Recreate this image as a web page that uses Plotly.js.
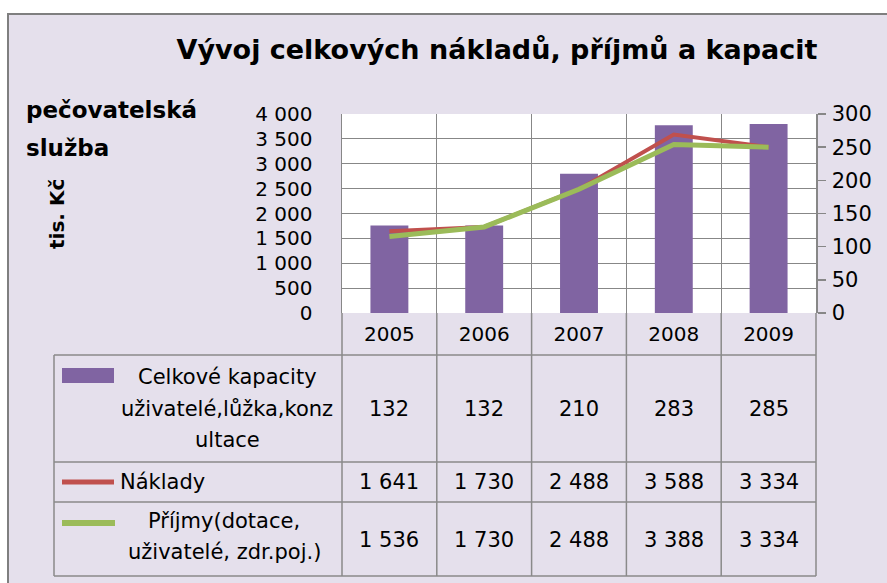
<!DOCTYPE html>
<html>
<head>
<meta charset="utf-8">
<script src="https://cdn.plot.ly/plotly-3.0.1.min.js"></script>
<style>html,body{margin:0;padding:0;background:#fff;}#chart{width:887px;height:583px;}</style>
</head>
<body>
<div id="chart"></div>
<script>
// ---- data ----
const categories = ['2005', '2006', '2007', '2008', '2009'];
const capacity = [132, 132, 210, 283, 285];      // Celkové kapacity (right axis)
const costs = [1641, 1730, 2488, 3588, 3334];    // Náklady (tis. Kč, left axis)
const income = [1536, 1730, 2488, 3388, 3334];   // Příjmy (tis. Kč, left axis)
const capacityLabel = ['Celkové kapacity', 'uživatelé,lůžka,konz', 'ultace'];
const costLabel = ['Náklady'];
const incomeLabel = ['Příjmy(dotace,', 'uživatelé, zdr.poj.)'];
const titleText = 'Vývoj celkových nákladů, příjmů a kapacit';
const sideLabel = ['pečovatelská', 'služba'];
const unitLabel = 'tis. Kč';

// ---- layout helpers (pixel -> paper) ----
const W = 887, H = 583;
const PL = 342, PR = 816, PT = 114, PB = 313;
const px = x => (x - PL) / (PR - PL);
const py = y => (PB - y) / (PB - PT);
const FONT = 'DejaVu Sans';
const GRID = '#878787';
const TBL = '#8a8a8a';
const fmt = v => String(v).replace(/\B(?=(\d{3})+(?!\d))/g, ' ');

const traces = [
  {type: 'bar', x: categories, y: capacity, yaxis: 'y', marker: {color: '#8064a2'}, width: 0.4, name: capacityLabel.join(' ')},
  {type: 'scatter', mode: 'lines', x: categories, y: costs, yaxis: 'y2', line: {color: '#c0504d', width: 4}, name: costLabel[0]},
  {type: 'scatter', mode: 'lines', x: categories, y: income, yaxis: 'y2', line: {color: '#9bbb59', width: 5}, name: incomeLabel.join(' ')}
];

const shapes = [];
const annotations = [];
// white outer margin + grey frame
shapes.push({type: 'rect', xref: 'paper', yref: 'paper', x0: px(-5), x1: px(7), y0: py(H + 5), y1: py(-5), fillcolor: '#ffffff', line: {width: 0}, layer: 'below'});
shapes.push({type: 'rect', xref: 'paper', yref: 'paper', x0: px(-5), x1: px(W + 5), y0: py(13), y1: py(-5), fillcolor: '#ffffff', line: {width: 0}, layer: 'below'});
shapes.push({type: 'line', xref: 'paper', yref: 'paper', x0: px(8), x1: px(8), y0: py(13), y1: py(H + 5), line: {color: '#7f7f7f', width: 2}});
shapes.push({type: 'line', xref: 'paper', yref: 'paper', x0: px(7), x1: px(W + 5), y0: py(14), y1: py(14), line: {color: '#7f7f7f', width: 2}});

// data table grid
const rowLines = [355, 462, 502, 576];
rowLines.forEach(y => shapes.push({type: 'line', xref: 'paper', yref: 'paper', x0: px(54), x1: px(PR), y0: py(y), y1: py(y), line: {color: TBL, width: 1.5}}));
shapes.push({type: 'line', xref: 'paper', yref: 'paper', x0: px(54), x1: px(54), y0: py(355), y1: py(576), line: {color: TBL, width: 1.5}});
for (let i = 0; i <= categories.length; i++) {
  shapes.push({type: 'line', xref: 'paper', yref: 'paper', x0: i / categories.length, x1: i / categories.length, y0: py(PB), y1: py(576), line: {color: TBL, width: 1.5}});
}
// legend keys in table
shapes.push({type: 'rect', xref: 'paper', yref: 'paper', x0: px(62), x1: px(114), y0: py(383), y1: py(368), fillcolor: '#8064a2', line: {width: 0}});
shapes.push({type: 'line', xref: 'paper', yref: 'paper', x0: px(62), x1: px(114), y0: py(482), y1: py(482), line: {color: '#c0504d', width: 5}});
shapes.push({type: 'line', xref: 'paper', yref: 'paper', x0: px(62), x1: px(115), y0: py(523), y1: py(523), line: {color: '#9bbb59', width: 6}});

const tf = {family: FONT, size: 21, color: '#000'};
// row labels
const capY = [377, 409, 440];
capacityLabel.forEach((t, i) => annotations.push({xref: 'paper', yref: 'paper', x: px(227), y: py(capY[i]), text: t, showarrow: false, xanchor: 'center', yanchor: 'middle', font: tf}));
annotations.push({xref: 'paper', yref: 'paper', x: px(118), y: py(482), text: costLabel[0], showarrow: false, xanchor: 'left', yanchor: 'middle', font: tf});
const incY = [521, 552];
incomeLabel.forEach((t, i) => annotations.push({xref: 'paper', yref: 'paper', x: px(224), y: py(incY[i]), text: t, showarrow: false, xanchor: 'center', yanchor: 'middle', font: tf}));
// values (column centres on the category axis)
[[capacity, 409], [costs, 482], [income, 540]].forEach(([arr, y]) => {
  arr.forEach((v, i) => annotations.push({xref: 'paper', yref: 'paper', x: (i + 0.5) / categories.length, y: py(y), text: fmt(v), showarrow: false, xanchor: 'center', yanchor: 'middle', font: tf}));
});
// side labels
annotations.push({xref: 'paper', yref: 'paper', x: px(24), y: py(110), text: '<b>' + sideLabel[0] + '</b>', showarrow: false, xanchor: 'left', yanchor: 'middle', font: {family: FONT, size: 23, color: '#000'}});
annotations.push({xref: 'paper', yref: 'paper', x: px(24), y: py(148), text: '<b>' + sideLabel[1] + '</b>', showarrow: false, xanchor: 'left', yanchor: 'middle', font: {family: FONT, size: 23, color: '#000'}});
annotations.push({xref: 'paper', yref: 'paper', x: px(57), y: py(214), text: '<b>' + unitLabel + '</b>', showarrow: false, textangle: -90, xanchor: 'center', yanchor: 'middle', font: {family: FONT, size: 20, color: '#000'}});

const layout = {
  width: W, height: H,
  margin: {l: PL, r: W - PR, t: PT, b: H - PB, pad: 0},
  paper_bgcolor: '#e5e0ec',
  plot_bgcolor: '#ffffff',
  separators: ', ',
  showlegend: false,
  title: {text: '<b>' + titleText + '</b>', xref: 'container', yref: 'container', x: 497 / W, y: 1 - 50 / H, xanchor: 'center', yanchor: 'middle', font: {family: FONT, size: 27, color: '#000'}},
  xaxis: {type: 'category', range: [-0.5, categories.length - 0.5], tickson: 'boundaries', showgrid: true, gridcolor: GRID, gridwidth: 1, ticks: '', showline: false, zeroline: false,
          tickangle: 0, tickfont: {family: FONT, size: 20, color: '#000'}, ticklabelstandoff: 7},
  yaxis: {side: 'right', range: [0, 300], dtick: 50, showgrid: false, zeroline: false, showline: true, linecolor: GRID, linewidth: 1.5,
          ticks: 'outside', ticklen: 8, tickcolor: GRID, tickwidth: 1.5, tickfont: {family: FONT, size: 21, color: '#000'}, ticklabelstandoff: 2},
  yaxis2: {overlaying: 'y', side: 'left', range: [0, 4000], dtick: 500, tickformat: ',d', showgrid: true, gridcolor: GRID, gridwidth: 1,
           zeroline: false, showline: true, linecolor: GRID, linewidth: 1.5, ticks: '', tickfont: {family: FONT, size: 20, color: '#000'}, ticklabelstandoff: 24},
  shapes: shapes,
  annotations: annotations
};

Plotly.newPlot('chart', traces, layout, {displayModeBar: false, staticPlot: true});
</script>
</body>
</html>
